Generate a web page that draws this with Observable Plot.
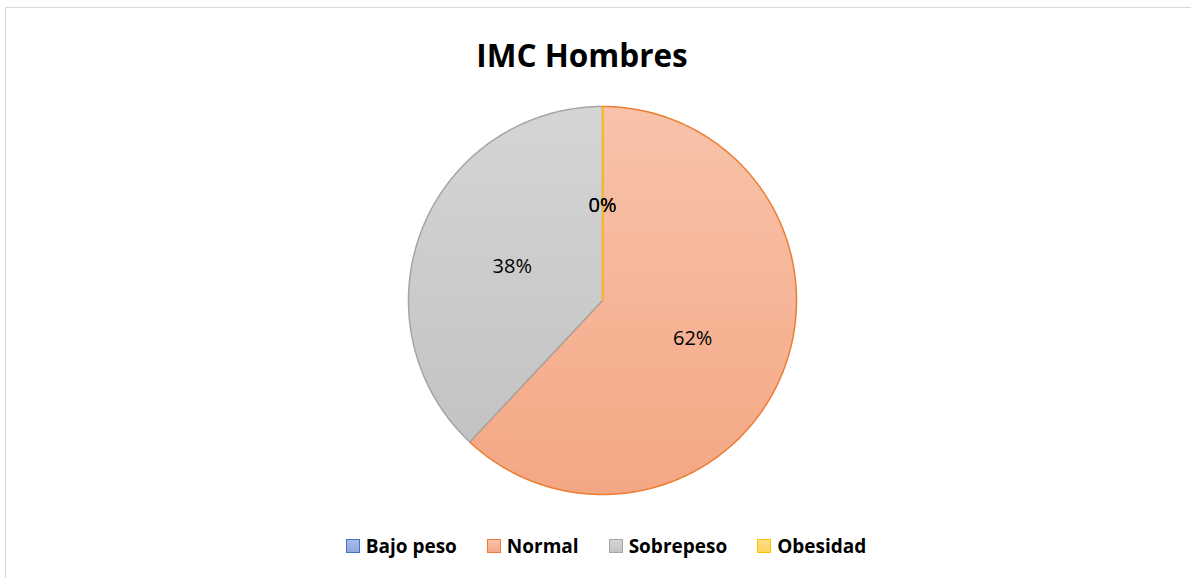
<!DOCTYPE html>
<html>
<head>
<meta charset="utf-8">
<script src="https://cdn.jsdelivr.net/npm/d3@7"></script>
<script src="https://cdn.jsdelivr.net/npm/@observablehq/plot@0.6"></script>
<style>
  html, body { margin: 0; padding: 0; background: #fff; }
  body { width: 1191px; height: 578px; position: relative; overflow: hidden; font-family: "Open Sans", sans-serif; }
  #frame { position: absolute; left: 5px; top: 7px; width: 1300px; height: 700px; border-left: 1.5px solid #d9d9d9; border-top: 1.5px solid #d9d9d9; }
  #title { position: absolute; left: 0; width: 1164px; top: 35px; text-align: center; font-weight: 700; font-size: 31.5px; color: #000; line-height: 40px; }
  #chart { position: absolute; left: 0; top: 90px; }
  #legend { position: absolute; left: 0; width: 1212px; top: 533px; display: flex; justify-content: center; align-items: center; font-weight: 700; font-size: 19px; color: #000; line-height: 26px; }
  .item { display: flex; align-items: center; margin: 0 15px; }
  .sw { width: 12px; height: 12px; border: 1.5px solid; margin-right: 6px; }
</style>
</head>
<body>
<div id="frame"></div>
<div id="title">IMC Hombres</div>
<div id="chart"></div>
<div id="legend"></div>
<script>
const categories = ["Bajo peso", "Normal", "Sobrepeso", "Obesidad"];
const values = [0, 62, 38, 0];
const strokeColors = ["#4472c4", "#ed7d31", "#a5a5a5", "#ffc000"];
const gradTop = ["#a9bde6", "#f8c3aa", "#d5d5d5", "#ffdf8a"];
const gradBottom = ["#8ea8dc", "#f4a784", "#c3c3c3", "#ffd45a"];

const total = d3.sum(values);
let cum = 0;
const slices = categories.map((name, i) => {
  const a0 = cum / total * 2 * Math.PI;
  cum += values[i];
  const a1 = cum / total * 2 * Math.PI;
  return {name, i, value: values[i], a0, a1, pct: Math.round(values[i] / total * 100) + "%"};
});

function slicePoints(s) {
  const n = Math.max(2, Math.ceil((s.a1 - s.a0) / (Math.PI / 360)));
  const pts = [{x: 0, y: 0}];
  for (let k = 0; k <= n; k++) {
    const a = s.a0 + (s.a1 - s.a0) * k / n;
    pts.push({x: Math.sin(a), y: Math.cos(a)});
  }
  pts.push({x: 0, y: 0});
  return pts;
}

const labels = slices.map(s => {
  const m = (s.a0 + s.a1) / 2;
  return {x: 0.5 * Math.sin(m), y: 0.5 * Math.cos(m), text: s.pct};
});

const defs = () => {
  const d = d3.create("svg:defs");
  slices.forEach(s => {
    const g = d.append("linearGradient").attr("id", "grad" + s.i)
      .attr("x1", 0).attr("y1", 0).attr("x2", 0).attr("y2", 1);
    g.append("stop").attr("offset", "0%").attr("stop-color", gradTop[s.i]);
    g.append("stop").attr("offset", "100%").attr("stop-color", gradBottom[s.i]);
  });
  return d.node();
};

const R = 194;
const plot = Plot.plot({
  width: 1191,
  height: 420,
  marginTop: 16,
  marginBottom: 16,
  marginLeft: 602 - R,
  marginRight: 1191 - 602 - R,
  x: {domain: [-1, 1], axis: null},
  y: {domain: [-1, 1], axis: null},
  style: {background: "transparent", overflow: "visible"},
  marks: [
    defs,
    ...slices.map(s => Plot.line(slicePoints(s), {
      x: "x", y: "y",
      fill: `url(#grad${s.i})`,
      stroke: strokeColors[s.i],
      strokeWidth: 1.5,
      strokeLinejoin: "round"
    })),
    Plot.text(labels, {
      x: "x", y: "y", text: "text",
      fontSize: 20, fill: "#000",
      fontFamily: "Open Sans",
      textAnchor: "middle", lineAnchor: "middle", dy: 2
    })
  ]
});
document.getElementById("chart").appendChild(plot);

const legend = document.getElementById("legend");
categories.forEach((c, i) => {
  const it = document.createElement("div");
  it.className = "item";
  const sw = document.createElement("div");
  sw.className = "sw";
  sw.style.borderColor = strokeColors[i];
  sw.style.background = `linear-gradient(${gradTop[i]}, ${gradBottom[i]})`;
  const t = document.createElement("span");
  t.textContent = c;
  it.appendChild(sw);
  it.appendChild(t);
  legend.appendChild(it);
});
</script>
</body>
</html>
